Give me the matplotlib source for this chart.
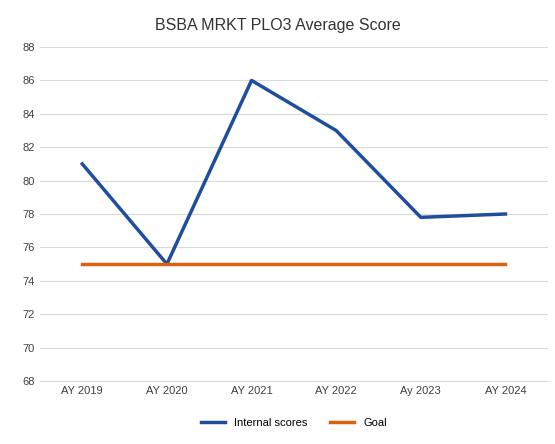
import matplotlib
matplotlib.use('Agg')
import matplotlib.pyplot as plt

years = ['AY 2019', 'AY 2020', 'AY 2021', 'AY 2022', 'Ay 2023', 'AY 2024']
internal_scores = [81, 75, 86, 83, 77.8, 78]
goal = [75, 75, 75, 75, 75, 75]

plt.rcParams['font.family'] = ['Liberation Sans', 'DejaVu Sans']

fig = plt.figure(figsize=(5.55, 4.44), dpi=100)
ax = fig.add_axes([0.072, 0.142, 0.915, 0.752])

x = range(len(years))
ax.plot(x, internal_scores, color='#1f4e9e', lw=2.5, label='Internal scores')
ax.plot(x, goal, color='#d9620f', lw=2.5, label='Goal')

ax.set_xlim(-0.5, len(years) - 0.5)
ax.set_ylim(68, 88)
ax.set_yticks(range(68, 89, 2))
ax.set_xticks(list(x))
ax.set_xticklabels(years)
ax.tick_params(length=0, labelsize=8, colors='#404040')
ax.grid(axis='y', color='#d9d9d9', lw=0.8)
ax.set_axisbelow(True)
for s in ['top', 'right', 'left']:
    ax.spines[s].set_visible(False)
ax.spines['bottom'].set_color('#d9d9d9')

fig.suptitle('BSBA MRKT PLO3 Average Score', y=0.96, fontsize=11.5, color='#333333')
ax.legend(loc='upper center', bbox_to_anchor=(0.5, -0.08), ncol=2, frameon=False,
          fontsize=8, handlelength=2.2)

fig.savefig('out.png', dpi=100)
